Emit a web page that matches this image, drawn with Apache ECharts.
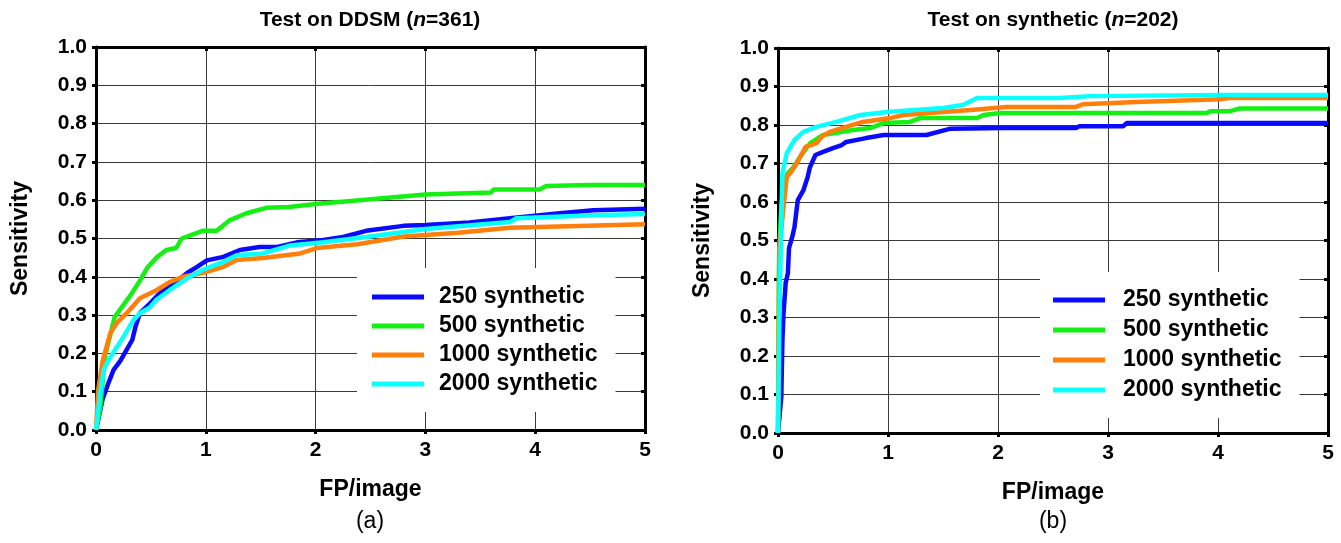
<!DOCTYPE html>
<html>
<head>
<meta charset="utf-8">
<title>FP/image vs Sensitivity</title>
<script src="https://cdn.jsdelivr.net/npm/echarts@6/dist/echarts.min.js"></script>
<style>
    html, body { margin: 0; padding: 0; background: #fff; }
    #chart { width: 1341px; height: 543px; }
</style>
</head>
<body>
<div id="chart"></div>
<script>
// series names
const seriesNames = ['250 synthetic', '500 synthetic', '1000 synthetic', '2000 synthetic']
const seriesColors = ['#0a0aff', '#14f014', '#ff7f0a', '#0affff']

// axis ranges / ticks
const xMin = 0, xMax = 5, xStep = 1
const yMin = 0, yMax = 1, yStep = 0.1

// (a) Test on DDSM, [FP/image, sensitivity]
const ddsm250 = [[0,0],[0.06,0.08],[0.11,0.12],[0.16,0.157],[0.22,0.18],[0.28,0.21],[0.33,0.235],[0.36,0.27],[0.40,0.305],[0.49,0.33],[0.58,0.357],[0.67,0.374],[0.83,0.41],[0.92,0.426],[1.01,0.443],[1.16,0.452],[1.31,0.47],[1.49,0.478],[1.65,0.478],[1.83,0.49],[2.07,0.496],[2.25,0.504],[2.46,0.52],[2.8,0.533],[3.0,0.535],[3.4,0.542],[3.77,0.553],[4.2,0.565],[4.53,0.574],[5,0.578]]
const ddsm500 = [[0,0],[0.04,0.06],[0.08,0.19],[0.17,0.295],[0.31,0.35],[0.40,0.39],[0.47,0.425],[0.55,0.45],[0.64,0.47],[0.73,0.475],[0.78,0.50],[0.97,0.52],[1.1,0.52],[1.22,0.548],[1.37,0.566],[1.55,0.58],[1.76,0.582],[2.0,0.59],[2.4,0.60],[3.0,0.615],[3.6,0.62],[3.62,0.628],[4.04,0.628],[4.1,0.637],[4.5,0.64],[5,0.64]]
const ddsm1000 = [[0,0],[0.02,0.104],[0.06,0.18],[0.13,0.253],[0.19,0.28],[0.28,0.305],[0.40,0.344],[0.55,0.365],[0.67,0.386],[0.79,0.40],[0.97,0.41],[1.16,0.426],[1.28,0.444],[1.52,0.449],[1.86,0.461],[2.01,0.475],[2.38,0.485],[2.8,0.505],[3.3,0.515],[3.77,0.528],[4.3,0.532],[5,0.537]]
const ddsm2000 = [[0,0],[0.04,0.10],[0.07,0.157],[0.11,0.18],[0.19,0.217],[0.25,0.243],[0.34,0.287],[0.40,0.305],[0.49,0.32],[0.55,0.34],[0.67,0.365],[0.83,0.396],[0.97,0.418],[1.16,0.439],[1.28,0.456],[1.52,0.461],[1.77,0.482],[2.07,0.49],[2.46,0.504],[3.0,0.525],[3.77,0.543],[3.83,0.553],[4.53,0.561],[5,0.564]]

// (b) Test on synthetic
const syn250 = [[0,0],[0.03,0.094],[0.04,0.24],[0.05,0.31],[0.07,0.39],[0.09,0.415],[0.10,0.48],[0.13,0.51],[0.15,0.535],[0.18,0.605],[0.23,0.63],[0.27,0.665],[0.29,0.69],[0.34,0.722],[0.41,0.73],[0.50,0.74],[0.58,0.748],[0.62,0.756],[0.80,0.766],[0.96,0.774],[1.35,0.774],[1.56,0.79],[2.05,0.792],[2.71,0.792],[2.74,0.797],[3.14,0.797],[3.17,0.805],[5,0.805]]
const syn500 = [[0,0],[0.01,0.47],[0.03,0.587],[0.06,0.657],[0.09,0.675],[0.14,0.69],[0.20,0.717],[0.29,0.752],[0.41,0.774],[0.68,0.787],[0.84,0.792],[0.96,0.805],[1.2,0.808],[1.29,0.818],[1.81,0.818],[1.87,0.826],[2.02,0.831],[3.9,0.831],[3.93,0.836],[4.11,0.836],[4.2,0.843],[5,0.843]]
const syn1000 = [[0,0],[0.01,0.42],[0.02,0.5],[0.05,0.587],[0.08,0.665],[0.12,0.678],[0.17,0.70],[0.25,0.743],[0.35,0.753],[0.40,0.77],[0.47,0.782],[0.58,0.792],[0.77,0.808],[1.02,0.818],[1.14,0.826],[1.50,0.834],[1.75,0.839],[2.08,0.847],[2.71,0.847],[2.77,0.854],[3.26,0.86],[4.02,0.867],[4.1,0.87],[5,0.87]]
const syn2000 = [[0,0],[0.01,0.25],[0.02,0.415],[0.04,0.675],[0.08,0.727],[0.15,0.761],[0.23,0.782],[0.35,0.795],[0.53,0.808],[0.75,0.826],[0.99,0.834],[1.5,0.844],[1.68,0.852],[1.81,0.87],[2.56,0.87],[2.84,0.875],[4.02,0.878],[5,0.878]]

const ddsmData = [ddsm250, ddsm500, ddsm1000, ddsm2000]
const synData = [syn250, syn500, syn1000, syn2000]

const FONT = '"Liberation Sans", Arial, Helvetica, sans-serif'
const boldText = size => ({ fontFamily: FONT, fontWeight: 'bold', fontSize: size, color: '#000' })

function xAxes(grid) {
    return [
        {
            type: 'value', gridIndex: grid, position: 'bottom',
            min: xMin, max: xMax, interval: xStep,
            name: 'FP/image', nameLocation: 'middle', nameGap: 48,
            nameTextStyle: boldText(23),
            axisLine: { show: true, onZero: false, lineStyle: { color: '#000', width: 3 } },
            axisTick: { show: true, length: 4, lineStyle: { color: '#000', width: 3 } },
            axisLabel: Object.assign({ margin: 10 }, boldText(21)),
            splitLine: { show: true, lineStyle: { color: '#3a3a3a', width: 1 } },
        },
        {
            type: 'value', gridIndex: grid, position: 'top',
            min: xMin, max: xMax, interval: xStep,
            axisLine: { show: true, onZero: false, lineStyle: { color: '#000', width: 3 } },
            axisTick: { show: true, inside: true, length: 4, lineStyle: { color: '#000', width: 3 } },
            axisLabel: { show: false },
            splitLine: { show: false },
        },
    ]
}

function yAxes(grid) {
    return [
        {
            type: 'value', gridIndex: grid, position: 'left',
            min: yMin, max: yMax, interval: yStep,
            name: 'Sensitivity', nameLocation: 'middle', nameGap: 64,
            nameTextStyle: boldText(23),
            axisLine: { show: true, onZero: false, lineStyle: { color: '#000', width: 3 } },
            axisTick: { show: true, length: 4, lineStyle: { color: '#000', width: 3 } },
            axisLabel: Object.assign({ margin: 9, formatter: v => v.toFixed(1) }, boldText(21)),
            splitLine: { show: true, lineStyle: { color: '#3a3a3a', width: 1 } },
        },
        {
            type: 'value', gridIndex: grid, position: 'right',
            min: yMin, max: yMax, interval: yStep,
            axisLine: { show: true, onZero: false, lineStyle: { color: '#000', width: 3 } },
            axisTick: { show: true, inside: true, length: 4, lineStyle: { color: '#000', width: 3 } },
            axisLabel: { show: false },
            splitLine: { show: false },
        },
    ]
}

function makeSeries(list, axisIdx) {
    return list.map((d, i) => ({
        name: seriesNames[i],
        type: 'line',
        xAxisIndex: axisIdx,
        yAxisIndex: axisIdx,
        data: d,
        showSymbol: false,
        symbol: 'none',
        lineStyle: { width: 4.5, color: seriesColors[i] },
        itemStyle: { color: seriesColors[i] },
        z: 3 + i,
        animation: false,
    }))
}

function makeLegend(left, top, pad, textPad, gap) {
    return {
        data: seriesNames,
        orient: 'vertical',
        left: left, top: top,
        padding: pad,
        itemGap: gap,
        itemWidth: 52,
        itemHeight: 5,
        icon: 'rect',
        selectedMode: false,
        backgroundColor: '#fff',
        textStyle: Object.assign({ lineHeight: 24, padding: [0, 0, 0, textPad] }, boldText(23)),
        z: 10,
    }
}

const titleRich = { i: { fontStyle: 'italic', fontFamily: FONT, fontWeight: 'bold', fontSize: 21, color: '#000' } }

const chart = echarts.init(document.getElementById('chart'), null, { renderer: 'canvas' })
chart.setOption({
    backgroundColor: '#fff',
    animation: false,
    title: [
        { text: 'Test on DDSM ({i|n}=361)', left: 370, top: 10, textAlign: 'center', padding: 0,
          textStyle: Object.assign({ rich: titleRich }, boldText(21)) },
        { text: 'Test on synthetic ({i|n}=202)', left: 1053, top: 10, textAlign: 'center', padding: 0,
          textStyle: Object.assign({ rich: titleRich }, boldText(21)) },
        { text: '(a)', left: 370, top: 510, textAlign: 'center', padding: 0,
          textStyle: { fontFamily: FONT, fontWeight: 'normal', fontSize: 23, color: '#000' } },
        { text: '(b)', left: 1053, top: 510, textAlign: 'center', padding: 0,
          textStyle: { fontFamily: FONT, fontWeight: 'normal', fontSize: 23, color: '#000' } },
    ],
    grid: [
        { left: 96, right: 696, top: 47, bottom: 113, containLabel: false },
        { left: 778, right: 13, top: 48, bottom: 110, containLabel: false },
    ],
    xAxis: [...xAxes(0), ...xAxes(1)],
    yAxis: [...yAxes(0), ...yAxes(1)],
    legend: [
        makeLegend(357, 268, [17, 18, 16, 15], 10, 5),
        makeLegend(1040, 272, [16, 18, 16, 13], 13, 6),
    ],
    series: [...makeSeries(ddsmData, 0), ...makeSeries(synData, 2)],
})
</script>
</body>
</html>
